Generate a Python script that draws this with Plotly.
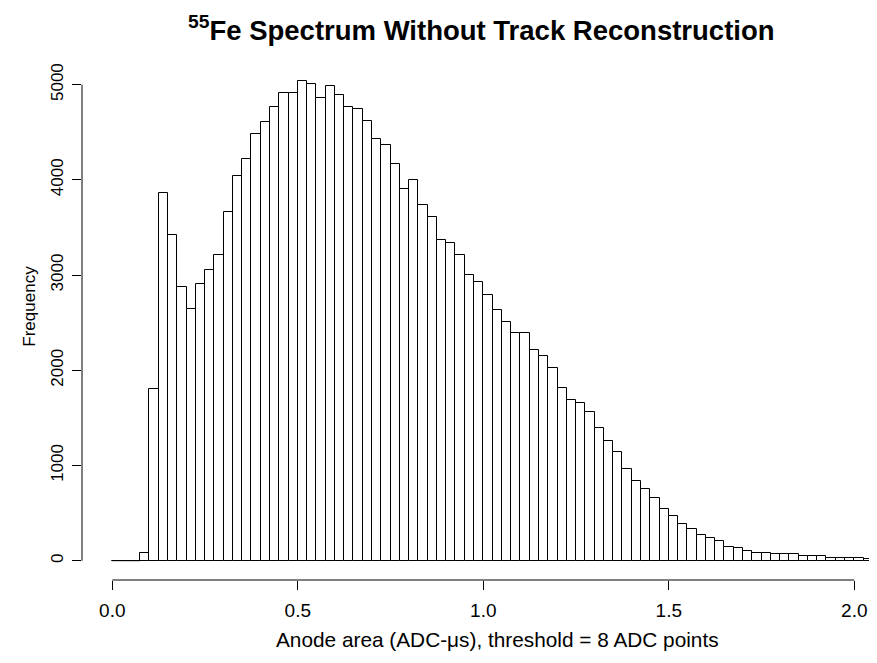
import plotly.graph_objects as go

# ---- data ----
bin_start = 0.0
bin_width = 0.025
counts = [0, 0, 0, 84, 1800, 3866, 3421, 2875, 2647, 2906,
          3050, 3214, 3662, 4044, 4223, 4482, 4608, 4769, 4909, 4909,
          5035, 5007, 4860, 4989, 4895, 4769, 4748, 4622, 4429, 4363,
          4170, 3901, 3999, 3739, 3613, 3372, 3340, 3214, 3004, 2924,
          2791, 2633, 2503, 2388, 2388, 2216, 2150, 2024, 1814, 1688,
          1656, 1558, 1397, 1254, 1138, 966, 837, 753, 662, 546,
          466, 389, 336, 273, 242, 210, 147, 130, 102, 84,
          84, 67, 67, 67, 49, 49, 49, 32, 32, 32,
          32, 18, 35]
x_ticks = [0.0, 0.5, 1.0, 1.5, 2.0]
x_tick_labels = ["0.0", "0.5", "1.0", "1.5", "2.0"]
y_ticks = [0, 1000, 2000, 3000, 4000, 5000]
y_tick_labels = ["0", "1000", "2000", "3000", "4000", "5000"]

title_text = "<b><sup>55</sup>Fe Spectrum Without Track Reconstruction</b>"
x_title = "Anode area (ADC-\u03bcs), threshold = 8 ADC points"
y_title = "Frequency"

left_edges = [bin_start + i * bin_width for i in range(len(counts))]

FONT = "Liberation Sans, Arial, Helvetica, sans-serif"

fig = go.Figure()
fig.add_trace(go.Bar(
    x=left_edges, y=counts, width=bin_width, offset=0,
    marker=dict(color="white", line=dict(color="black", width=1)),
    hoverinfo="x+y", showlegend=False,
))

# zero-count bins are drawn by R as a line on the baseline
zx, zy = [], []
for e, c in zip(left_edges, counts):
    if c == 0:
        zx += [e, e + bin_width, None]
        zy += [0, 0, None]
fig.add_trace(go.Scatter(x=zx, y=zy, mode="lines",
                         line=dict(color="black", width=1),
                         hoverinfo="skip", showlegend=False))

fig.update_layout(
    width=877, height=663,
    margin=dict(l=74, r=8, t=48, b=91, autoexpand=False),
    paper_bgcolor="white", plot_bgcolor="white",
    bargap=0,
    font=dict(family=FONT, color="black"),
    xaxis=dict(range=[-0.0817, 2.0612], tickvals=x_ticks, ticktext=x_tick_labels,
               ticks="outside", ticklen=9, tickwidth=1, tickcolor="black",
               showline=False, showgrid=False, zeroline=False, automargin=False,
               tickfont=dict(size=19), ticklabelstandoff=4),
    yaxis=dict(range=[-202.7, 5301], tickvals=y_ticks, ticktext=y_tick_labels,
               ticks="outside", ticklen=9, tickwidth=1, tickcolor="black",
               showline=False, showgrid=False, zeroline=False, automargin=False,
               tickangle=-90, tickfont=dict(size=17), ticklabelstandoff=2),
    shapes=[
        dict(type="line", xref="x", yref="paper", x0=min(x_ticks), x1=max(x_ticks),
             y0=0, y1=0, line=dict(color="black", width=1)),
        dict(type="line", xref="paper", yref="y", x0=0, x1=0,
             y0=min(y_ticks), y1=max(y_ticks), line=dict(color="black", width=1)),
    ],
    annotations=[
        dict(text=title_text, xref="paper", yref="paper", x=0.503, y=1.0,
             yshift=28, xanchor="center", yanchor="middle", showarrow=False,
             font=dict(size=27.5, family=FONT)),
        dict(text=x_title, xref="paper", yref="paper", x=0.523, y=-0.1126,
             xanchor="center", yanchor="middle", showarrow=False,
             font=dict(size=20.8, family=FONT)),
        dict(text=y_title, xref="paper", yref="paper", x=-0.0654, y=0.5216,
             xanchor="center", yanchor="middle", showarrow=False, textangle=-90,
             font=dict(size=17, family=FONT)),
    ],
)

fig.write_html("out.html")
